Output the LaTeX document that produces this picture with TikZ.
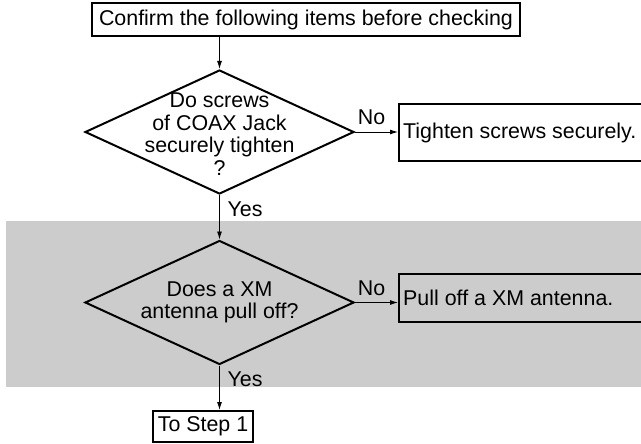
\documentclass[tikz,border=0pt]{standalone}
\usepackage{fontspec}
\setmainfont{Liberation Sans}
\usetikzlibrary{shapes.geometric,arrows.meta}
\definecolor{band}{HTML}{CCCCCC}
\begin{document}
\begin{tikzpicture}[x=1pt,y=-1pt,
  every node/.style={font=\fontsize{21.4}{22.5}\selectfont, inner sep=0pt},
  decision/.style={draw, line width=2pt, shape=diamond, minimum width=269pt, minimum height=124pt},
  dlabel/.style={align=center},
  boxnode/.style={draw, line width=2pt, rectangle},
  flow/.style={line width=0.9pt, -{Latex[length=8pt,width=5pt]}},
  tag/.style={anchor=center}
]
\useasboundingbox (0,0) rectangle (641,444);
\fill[band] (6,221) rectangle (645,387);

\node[boxnode, minimum width=428pt, minimum height=33pt] (top) at (306,19.5) {Confirm the following items before checking};

\node[decision, label={[dlabel, yshift=-2pt]center:Do screws\\of COAX Jack\\securely tighten\\?}] (d1) at (219.5,132) {};
\node[boxnode, minimum width=243pt, minimum height=57pt] (b1) at (520.5,132.5) {};
\node[anchor=west] (t1) at ([xshift=5pt]b1.west) {Tighten screws securely.};

\node[decision, fill=band, label={[dlabel]center:Does a XM\\antenna pull off?}] (d2) at (219.5,302.5) {};
\node[boxnode, fill=band, minimum width=243pt, minimum height=48pt] (b2) at (520.5,298) {};
\node[anchor=west] (t2) at ([xshift=5pt]b2.west) {Pull off a XM antenna.};

\node[boxnode, minimum width=100pt, minimum height=31pt] (s1) at (203,426.5) {To Step 1};

\draw[flow] (d1.north |- top.south) -- (d1.north);
\draw[flow] (d1.east) -- (b1.west |- d1.east);
\draw[flow] (d1.south) -- (d2.north);
\draw[flow] (d2.east) -- (b2.west |- d2.east);
\draw[flow] (d2.south) -- (d2.south |- s1.north);

\node[tag] (no1) at (371.5,117) {No};
\node[tag] (no2) at (371.5,288) {No};
\node[tag] (yes1) at (245,209) {Yes};
\node[tag] (yes2) at (245,379.5) {Yes};
\end{tikzpicture}
\end{document}
